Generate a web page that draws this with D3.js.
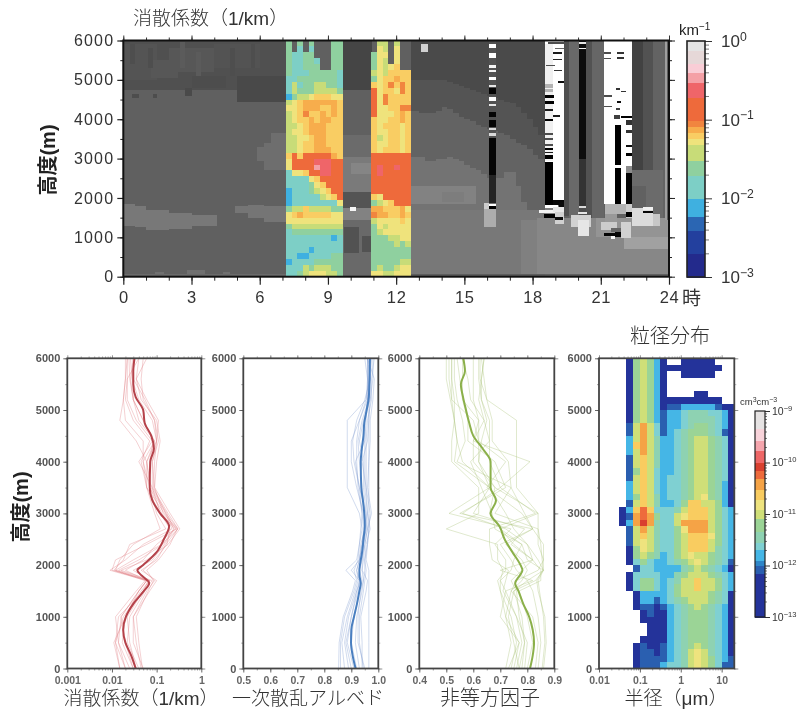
<!DOCTYPE html>
<html><head><meta charset="utf-8">
<script src="https://cdn.jsdelivr.net/npm/d3@7"></script>
<style>
html,body{margin:0;padding:0;background:#fff}
svg{display:block;filter:blur(0.65px)}
text{font-family:"Liberation Sans",Arial,sans-serif}
.cjk{font-family:"Liberation Sans","Noto Sans CJK JP","Noto Sans",sans-serif}
</style></head><body>
<svg id="c" width="798" height="710"></svg>
<script>
// ---------- colour levels
const extBounds=[.002,.0039,.0058,.01,.0195,.0302,.049,.058,.069,.083,.0975,.19,.295,.4,.52,.75];
const extColors=["#232a8c","#23409e","#2b66b3","#3fb0e0","#7dcfc6","#8fd09f","#c8dc78","#efe37c","#f9cd63","#f7ad4c","#f1853f","#ee6a3b","#ef6569","#f4a0a6","#f9cdd6","#e6d8d8","#e4e4e4"];
const extCode={l:.0075,t:.015,g:.025,y:.04,Y:.053,o:.063,O:.076,R:.09,r:.14,p:.24,k:.35};
const psdBounds=[7e-13,1e-12,1.25e-12,2e-12,2.8e-12,4.5e-12,8e-12,1.25e-11,1.9e-11,3e-11,4.8e-11,7e-11,1e-10,1.7e-10,2.7e-10,4.5e-10];
const psdColors=["#24339a","#2a5fb0","#2f86c8","#45b6e6","#7fd0d2","#8ed2b2","#9bd496","#cfdf78","#eee37e","#f9cc60","#f5a346","#ee6b3c","#d9402f","#ee6666","#f5a5ad","#f8d3da","#e6e3e3"];
const psdCode={n:2.4e-13,b:8e-13,l:1.6e-12,t:2.4e-12,e:3.6e-12,g:6e-12,y:1e-11,Y:1.5e-11,o:2.4e-11,O:3.8e-11,r:6e-11,R:8.5e-11};

// ---------- upper panel: gray background (t0,t1,altLow,altHigh,level 0..10)
const edgeTimes=[12.65,13,13.25,13.5,13.75,14,14.25,14.5,14.75,15,15.25,15.5,15.75,16,16.25,16.5,16.75,17,17.25,17.5,17.75,18,18.25,18.5];
const edgeDark =[5000,5000,5000,5000,5000,5000,4950,4900,4850,4800,4750,4700,4650,4600,4550,4500,4450,4400,4300,4150,4000,3800,3600,3350];
const edgeMid  =[4200,4150,4150,4150,4200,4300,4250,4150,4050,4000,3950,3850,3800,3750,3700,3650,3600,3500,3400,3350,3250,3100,3000,2900];
const edgeLight=[3050,3050,2950,2950,3000,3000,3050,3000,2950,2850,2750,2700,2600,2500,2500,2500,2650,2650,2300,1900,1450,1450,1450,1450];
const grayPatches=[
[0,24,0,6000,3.75],
[0,7.2,4750,6000,3.15],[0,1.5,5000,5900,3.3],[2,4,5200,5800,3.4],[4,6,5300,5900,3.25],[1.2,2.4,5050,5500,3.4],[3,4.5,4800,5100,3],[5,7.2,4450,5100,2.85],
[0.3,0.5,5400,5900,3.05],[1.1,1.3,5300,5800,3.05],[2.5,2.7,5300,5950,3.55],[3.2,3.4,5100,5700,3.55],[4.7,4.9,5100,5800,3.05],[5.6,5.8,5300,5900,3.05],
[0.4,0.7,4550,4650,3],[1.3,1.5,4550,4650,3],[2.7,3,4600,4800,2.9],
[0,0.5,1300,1850,4.7],[0.5,1,1250,1800,4.7],[1,2,1180,1700,4.7],[2,3,1220,1620,4.7],[3,4.1,1300,1570,4.7],
[4.9,5.5,1620,1800,4.6],[5.5,6.2,1500,1830,4.6],[6.2,7.2,1380,1790,4.6],
[0,7.2,0,70,4.2],[1.4,1.8,70,120,4.4],[2.8,3.6,70,160,4.4],[4.4,4.7,70,130,4.4],
[6.2,7.2,2700,3400,4.3],[5.9,6.3,2950,3300,4.3],[6.5,7.2,3300,3650,4.3],
[9.65,10.95,4750,6000,2.7],[9.65,10.95,3050,3600,4.2],[9.65,10.95,2150,3050,4.8],[10,10.95,2600,2900,5.2],
[9.65,10.95,1750,2150,3.3],[9.65,10.95,1450,1750,5.1],[9.65,10.95,0,1450,4.1],
[9.7,10.35,600,1250,3.2],[10.5,10.95,620,1030,3.2],[9.95,10.25,1680,1760,9.6],
[12.65,18.55,0,1700,4.7],[12.65,15.5,1850,2300,5.1],[14,15,1900,2150,4.9],[18.2,24,0,1500,5.3],[17.5,18.2,0,1450,5],
[20.8,24,1000,1500,5.8],[22,24,700,1000,6.3],[12.65,18.55,0,70,3.7],[18.55,24,0,60,3.8],
[19.4,19.6,1550,6000,3.1],[19.6,20.05,1500,6000,4.1],[20.05,20.35,1500,6000,3],[20.35,20.6,1500,6000,3.2],[20.6,21.15,1500,6000,4],
[22.36,22.85,1550,6000,2.6],[22.85,23.3,1500,6000,3.2],[23.3,23.82,1500,6000,3.9],[23.82,23.92,1450,6000,6.2],[23.92,24,1450,6000,3.6],
[22.36,23.75,1500,2700,4.2],[22.36,23,1700,2300,3.8],[18.55,19.4,1500,1800,5],
[13.1,13.4,5700,5920,8.2]
];
const grayEarly=17; // patches painted before the 12.65–18.5 h edges
// ---------- upper panel: black/white cells
const sparkCells=[
[16.1,16.38,2590,6000,3.2],[16.1,16.38,1860,2580,1.4],[16.1,16.38,2580,3514,0.2],[16.1,16.38,3800,3987,0.2],[16.1,16.38,4055,4174,0.2],[16.1,16.38,4640,4783,0.2],[16.1,16.38,5000,5060,0.8],
[16.1,16.38,5815,5900,10],[16.1,16.38,5560,5670,10],[16.1,16.38,5310,5375,9.6],[16.1,16.38,5190,5250,9.6],[16.1,16.38,4995,5080,10],[16.1,16.38,4825,4870,9],[16.1,16.38,4470,4570,10],[16.1,16.38,4326,4377,9],[16.1,16.38,3716,3767,8.5],[16.1,16.38,3573,3640,8.5],
[16.1,16.38,1800,1846,10],[16.1,16.38,1710,1800,0],[15.85,16.38,1270,1710,6.8],[15.85,16.1,1720,1860,8],
[18.55,19.4,1950,6000,10],[18.55,18.9,2950,5900,9.4],[18.55,18.9,1820,2920,0],
[18.55,18.95,4530,4613,0],[18.55,18.95,4377,4460,0],[18.55,18.9,4220,4250,1],[18.55,18.9,3960,4000,0],[18.55,18.9,3600,3640,3],[18.55,18.9,3480,3520,3],[18.55,18.9,3320,3360,3],[18.55,18.9,3220,3280,0],[18.55,18.9,3130,3170,1],[18.55,18.9,2990,3090,0],
[18.55,18.9,4800,4900,7],[18.55,18.9,4700,4760,7],
[18.9,19.3,5650,5700,1],[18.9,19.3,5500,5540,1.5],[18.6,19,5340,5380,3],[18.95,19.3,5230,5260,2],[19.1,19.4,4920,4970,0.5],[18.9,19.2,4060,4100,1],[18.7,19.4,5900,5950,3],[19,19.4,5780,5820,4],
[18.9,19.4,1820,1950,0.3],[19.15,19.4,1750,1900,0.4],[18.55,19.1,1750,1820,10],
[18.3,19.1,1620,1700,9.5],[18.5,19,1490,1590,0],[18.9,19.4,1650,1780,9],[19,19.4,1350,1650,8.2],[19,19.35,1440,1520,0.5],
[20.05,20.35,3000,6000,0.5],[20.05,20.35,1800,3000,2],[20.05,20.35,5780,5820,9.5],[20.05,20.35,5900,5960,9],[20.05,20.35,1740,1800,8.5],[20,20.4,1600,1650,9],[19.7,20.55,1250,1570,8.2],[20,20.5,1030,1450,9],
[21.15,22.36,1850,6000,10],
[21.62,21.87,1820,3850,0],[21.62,21.87,2750,2840,10],[22.1,22.36,1850,2640,0.2],[22.1,22.36,2640,2820,5.5],[22.1,22.36,3060,3130,0],[22.1,22.36,3300,3350,0.5],[22.1,22.36,3640,3720,2],[22.1,22.36,3860,3980,2],[21.87,22.36,4020,4080,0],
[21.15,21.45,5660,5700,3],[21.15,21.45,5520,5560,3],[21.7,22,5660,5710,2],[21.7,22,5540,5580,2],[21.65,21.85,4750,4800,2],[21.9,22.1,4680,4720,2],[21.7,21.9,4420,4470,0.5],[21.65,21.85,4230,4290,2.5],[21.15,21.5,4570,4610,3],[21.15,21.5,4300,4340,3],[21.6,21.85,4000,4100,2.5],
[21.2,22.1,1600,1850,7],[21.2,21.7,1400,1600,6],[21,21.7,1180,1400,8],[21.15,21.7,1030,1120,0.2],[21.62,21.87,1020,1130,0.2],[21.87,22.1,1030,1200,0.2],[21.45,21.62,950,1040,9.6],[21.45,21.87,1130,1240,4],[21.87,22.35,980,1400,8.2],
[22.1,22.36,1500,1850,8],[22.1,22.36,1520,1640,0],[22.36,23.3,1300,1750,8.6],[22.85,23.3,1620,1670,0.2],[22.85,23.3,1700,1760,9.4],[23.3,23.6,1300,1600,7.8]
];
const swathStart=[7.15,10.9];
const swathOne=["gxgxgxxxgg","gxtxtxxxgg","gttggxxxgg","gttggtxxgg","gttgggxxgg","gtttgggggt","ttgggggggt","tytggyyggt","tygggyyyyg","lgyyYoooYY","yYoOOOOOOo","YYoOOOooOo","yYoRooOoOo","yYooOoOOoo","yyYoOOOooo","yYYoOOOooo","yyYYoOOooo","yyYooOOooo","yyYooOOOoo","ororrrrrOo","Yrrrrppprr","Yrrrrkpprr","tYYorrpprr","ttttYorrrr","ttttgYorrr","ltttgyYorr","ltttttyYor","lttttttttY","gyyoyyyygg","YoOoooooYY","YYYYYYYYYY","gyyyyyyyyy","tggggggggg","ttttttttlt","tttttttttt","ttttlttttt","ttllttttgg","lttttggggg","tttygyyygg","ttgyYYYyyg"];
const swathTwo=["xyyxyxx","xYyxYxx","gYYxYxx","gYyxYxx","gYyYoxx","yYyoooo","gYooOoo","oYoRoRo","rYooYRo","rYRoooo","rYRoooo","rYYooRR","rYYYoOo","oYYooOo","oYoooYo","oYYooYo","oyYooYo","oYYooYo","oYoooYo","rrrrrrr","rrrrrrr","rprrprr","rprrrrr","rrrrrrr","rrrrrrr","rrrrrrr","oYrrrrr","gyYorrr","OOoooOY","ROOooOo","yYYYYoY","gYyYYYY","gyYYYYY","gggyyYY","ggggygy","ggggggg","ggggggg","gggggyy","gyggyYY","YYyyYYY"];

// ---------- lower panels
const altMean=[0,250,500,750,1000,1250,1500,1650,1800,1900,2000,2250,2500,2750,3000,3250,3500,4000,4250,4500,4750,5000,5250,5500,5750,6000];
const extMean=[.034,.027,.020,.0178,.0205,.030,.052,.068,.046,.037,.05,.10,.145,.19,.12,.08,.07,.072,.087,.076,.054,.05,.034,.03,.03,.032];
const albMean=[.916,.905,.899,.9,.91,.921,.93,.935,.93,.93,.932,.94,.945,.95,.948,.943,.937,.935,.939,.945,.948,.957,.965,.967,.968,.969];
const asyMean=[.81,.82,.825,.82,.807,.785,.767,.755,.772,.782,.775,.745,.716,.697,.664,.684,.664,.664,.635,.6,.585,.573,.562,.554,.569,.563];
const altThin=[0,500,1000,1500,1700,1900,2100,2400,2700,3000,3500,4000,4400,4800,5200,5600,6000];
const extThin=[
[.015,.012,.018,.045,.07,.010,.012,.06,.28,.12,.06,.06,.09,.04,.03,.03,.03],
[.025,.014,.016,.04,.06,.009,.02,.05,.22,.16,.07,.05,.09,.05,.03,.025,.024],
[.03,.017,.02,.05,.065,.012,.03,.13,.3,.18,.08,.08,.1,.08,.04,.028,.026],
[.02,.012,.014,.05,.08,.016,.06,.18,.33,.2,.09,.08,.11,.09,.055,.03,.03],
[.04,.022,.025,.055,.07,.03,.08,.15,.25,.13,.07,.07,.085,.05,.03,.026,.03],
[.045,.035,.03,.06,.09,.05,.09,.17,.2,.12,.08,.04,.08,.035,.022,.022,.022],
[.048,.04,.035,.065,.085,.06,.11,.2,.29,.14,.09,.1,.12,.1,.045,.035,.04],
[.03,.02,.016,.04,.06,.02,.05,.1,.27,.15,.06,.05,.05,.02,.018,.02,.02],
[.02,.014,.012,.035,.055,.011,.018,.025,.16,.1,.07,.06,.035,.015,.018,.02,.022],
[.035,.025,.022,.05,.07,.014,.04,.14,.24,.17,.075,.06,.1,.09,.05,.045,.05],
[.015,.011,.02,.04,.06,.012,.015,.03,.12,.09,.06,.045,.07,.03,.02,.022,.04],
[.05,.03,.03,.07,.1,.045,.1,.16,.3,.16,.085,.09,.1,.11,.06,.035,.06]];
const albThin=[
[.853,.855,.87,.905,.915,.88,.92,.93,.94,.93,.885,.885,.885,.885,.955,.96,.96],
[.86,.86,.875,.91,.92,.91,.925,.93,.935,.94,.93,.91,.905,.92,.95,.97,.975],
[.875,.865,.885,.915,.925,.92,.93,.94,.945,.94,.925,.92,.92,.93,.96,.97,.97],
[.89,.875,.89,.92,.935,.93,.935,.945,.955,.95,.94,.93,.925,.94,.965,.965,.965],
[.9,.88,.9,.925,.93,.9,.93,.935,.95,.955,.945,.945,.93,.945,.97,.98,.98],
[.92,.9,.91,.93,.94,.93,.94,.95,.96,.955,.93,.915,.95,.955,.96,.96,.95],
[.93,.915,.92,.94,.945,.95,.95,.955,.97,.96,.955,.955,.955,.96,.975,.975,.985],
[.945,.93,.93,.945,.95,.955,.95,.96,.965,.97,.955,.94,.96,.965,.97,.97,.97],
[.94,.94,.935,.955,.96,.94,.945,.95,.96,.975,.96,.965,.97,.97,.98,.985,.96],
[.965,.965,.965,.965,.965,.965,.955,.96,.965,.965,.965,.965,.965,.965,.965,.96,.96],
[.91,.885,.9,.92,.93,.92,.93,.94,.95,.945,.92,.9,.9,.93,.955,.965,.97],
[.95,.925,.925,.935,.945,.94,.94,.945,.955,.96,.95,.95,.95,.95,.96,.97,.96]];
const asyThin=[
[.86,.87,.865,.84,.835,.857,.86,.86,.82,.79,.74,.73,.67,.67,.65,.64,.63],
[.855,.865,.86,.845,.84,.86,.855,.85,.84,.84,.76,.76,.76,.76,.65,.625,.625],
[.72,.74,.72,.70,.70,.71,.69,.69,.5,.62,.62,.52,.52,.53,.515,.50,.50],
[.74,.76,.74,.70,.69,.72,.72,.68,.74,.51,.66,.53,.54,.53,.52,.51,.51],
[.76,.78,.76,.71,.72,.73,.67,.66,.66,.83,.70,.81,.60,.64,.62,.63,.64],
[.78,.79,.78,.75,.80,.76,.74,.70,.82,.55,.72,.68,.58,.58,.56,.55,.54],
[.77,.75,.73,.75,.83,.86,.80,.78,.70,.84,.68,.62,.62,.62,.6,.6,.6],
[.80,.82,.80,.77,.85,.85,.82,.74,.79,.60,.66,.56,.54,.53,.53,.52,.52],
[.73,.77,.70,.72,.82,.70,.82,.80,.72,.56,.70,.66,.66,.66,.63,.62,.62],
[.83,.84,.82,.74,.76,.84,.86,.84,.84,.68,.74,.54,.57,.56,.54,.53,.53],
[.75,.77,.72,.74,.78,.80,.78,.72,.82,.78,.65,.72,.62,.60,.52,.52,.52],
[.79,.80,.76,.72,.70,.74,.75,.78,.68,.67,.63,.59,.66,.64,.59,.58,.56],
[.84,.85,.84,.82,.80,.86,.84,.80,.75,.72,.66,.62,.63,.65,.63,.63,.64],
[.77,.79,.77,.76,.74,.78,.82,.75,.70,.66,.68,.60,.60,.62,.56,.56,.56]];
// particle size: 48 layers of 125 m from the top, 17 radius bins of 1/6 decade from 10^-1.5 µm
const psdRows=[
".ngygln..nnnnn...",".ngyglnnnnnnnnn..",".ngygln..nnnnn...",".ngygln..........",".ngygln..........",".ngygln....nn....",".ngyglnnnnnnnnn..",".ngyglnbblllllbnn",
".ngyglbllteeettln",".ngyglbllteeeetln",".byOytbllteggetln",".byOytbltegggetbn",".lyOyelltegyygetn",".loOyelltegyygetn",".lyOyelltegyygetn",".byoyelltegyygetn",
".byoyelltegyygetn",".bgoytlltegyygetn",".byoytlttegyygetn",".lyoytlttegyygeln",".lyoytlttegyygeln",".lgoyelttegyYgeln",".byoyelltgooyygln","nlorottteyoooygtl",
"nbOrOgttyYoooygtl","nlOROettyOOOOygtl",".byOyettgYOOOygtl",".byoyettgyoooYgtl",".byYyettgyoooygtl",".ngYyettgyoooyetl",".ngygeltgyYyygetl",".ntgtlltegyYygetb",
"..bttllllegygetln",".nttttllegyyygetl",".ntggtlteyyoyygtl",".ntggtltgyyoyygtl","..nlllltgyyyygetn","..nllbltegyyygetn","..nbbnbltegygetln","...nbnnltegggetln",
"...nnnnltegggetln","....nnnltegggetln","....nnnltegggetln","...nnnnltegggetln","..nbnnbltegygetln","..nbbnblteyYyetln","..nbbbblteyYygtlb","..nbbbltteyYygtbb"];
const timeTicks=[0,3,6,9,12,15,18,21,24];
const altTicks=[0,1000,2000,3000,4000,5000,6000];
const extTicks=[.001,.01,.1,1], extLabels=["0.001","0.01","0.1","1"];
const albTicks=[.5,.6,.7,.8,.9,1], albLabels=["0.5","0.6","0.7","0.8","0.9","1.0"];
const asyTicks=[.4,.5,.6,.7,.8,.9];
const radTicks=[.01,.1,1,10], radLabels=["0.01","0.1","1","10"];

const svg=d3.select("#c");
const crisp=g=>g.attr("shape-rendering","crispEdges");
function logMinors(lo,hi){const a=[];for(let e=lo;e<hi;e++)for(let m=2;m<=9;m++)a.push(m*10**e);return a;}
function styleAxis(g,col,w){g.select(".domain").remove();g.selectAll("line").attr("stroke",col).attr("stroke-width",w);g.selectAll("text").attr("fill",col);}
function range(a,b,s){return d3.range(a,b+1e-9,s);}

// ======= upper panel
const x=d3.scaleLinear([0,24],[123.3,669]);
const y=d3.scaleLinear([0,6000],[276.7,40.5]);
const gray=d3.scaleLinear([0,10],["#000","#fff"]);
const extColor=d3.scaleThreshold(extBounds,extColors);
const topG=svg.append("g").call(crisp);
const cell=(g,t0,t1,a0,a1,fill)=>g.append("rect").attr("x",x(t0)).attr("width",x(t1)-x(t0)).attr("y",y(a1)).attr("height",y(a0)-y(a1)).attr("fill",fill);
grayPatches.slice(0,grayEarly).forEach(p=>cell(topG,p[0],p[1],p[2],p[3],gray(p[4])));
edgeTimes.forEach((t,i)=>{const t1=i<edgeTimes.length-1?edgeTimes[i+1]:18.55;
  cell(topG,t,t1,edgeDark[i],6000,gray(2.9));
  cell(topG,t,t1,edgeMid[i],edgeDark[i],gray(3.3));
  cell(topG,t,t1,edgeLight[i],edgeMid[i],gray(3.9));
  cell(topG,t,t1,0,edgeLight[i],gray(4.5));});
grayPatches.slice(grayEarly).forEach(p=>cell(topG,p[0],p[1],p[2],p[3],gray(p[4])));
sparkCells.forEach(p=>cell(topG,p[0],p[1],p[2],p[3],gray(p[4])));
[swathOne,swathTwo].forEach((rows,s)=>rows.forEach((row,r)=>[...row].forEach((c,k)=>{
  if(c==="x")return;
  cell(topG,swathStart[s]+k*.25,swathStart[s]+(k+1)*.25,6000-(r+1)*150,6000-r*150,extColor(extCode[c]));
})));
// axes
const axT=svg.append("g");
axT.append("g").attr("transform",`translate(0,${y(0)})`).call(d3.axisBottom(x).tickValues(range(0,24,1)).tickSize(4).tickFormat("")).call(styleAxis,"#222",1);
axT.append("g").attr("transform",`translate(0,${y(0)})`).call(d3.axisBottom(x).tickValues(timeTicks).tickSize(8).tickPadding(7).tickFormat(d=>d)).call(styleAxis,"#222",1.2)
  .selectAll("text").attr("font-size",16.5).attr("letter-spacing",.6).attr("fill","#333");
axT.append("g").attr("transform",`translate(0,${y(6000)})`).call(d3.axisTop(x).tickValues(range(0,24,1)).tickSize(3).tickFormat("")).call(styleAxis,"#333",1);
axT.append("g").attr("transform",`translate(0,${y(6000)})`).call(d3.axisTop(x).tickValues(timeTicks).tickSize(5).tickFormat("")).call(styleAxis,"#333",1);
axT.append("g").attr("transform",`translate(${x(0)},0)`).call(d3.axisLeft(y).tickValues(range(0,6000,500)).tickSize(3).tickFormat("")).call(styleAxis,"#222",1);
axT.append("g").attr("transform",`translate(${x(0)},0)`).call(d3.axisLeft(y).tickValues(altTicks).tickSize(6).tickPadding(3).tickFormat(d=>d)).call(styleAxis,"#222",1.2)
  .selectAll("text").attr("font-size",16).attr("letter-spacing",1.2).attr("fill","#333");
axT.append("g").attr("transform",`translate(${x(24)},0)`).call(d3.axisRight(y).tickValues(range(0,6000,500)).tickSize(3).tickFormat("")).call(styleAxis,"#222",1);
axT.append("g").attr("transform",`translate(${x(24)},0)`).call(d3.axisRight(y).tickValues(altTicks).tickSize(6).tickFormat("")).call(styleAxis,"#222",1);
axT.append("rect").attr("x",x(0)).attr("y",y(6000)).attr("width",x(24)-x(0)).attr("height",y(0)-y(6000)).attr("fill","none").attr("stroke","#111").attr("stroke-width",2);
svg.append("text").attr("class","cjk").attr("x",133).attr("y",25).attr("font-size",19).attr("fill","#333").attr("font-weight",300).text("消散係数（1/km）");
svg.append("text").attr("class","cjk").attr("x",682).attr("y",305).attr("font-size",19).attr("fill","#333").text("時");
svg.append("text").attr("class","cjk").attr("transform","translate(55,160) rotate(-90)").attr("text-anchor","middle").attr("font-size",20).attr("font-weight",700).attr("fill","#222").text("高度(m)");

// colourbar helper
function colourbar(bx,bw,by0,by1,dom,bounds,colors,labelExp,opt){
  const cy=d3.scaleLog(dom,[by1,by0]);
  const g=svg.append("g").call(crisp);
  const edges=[dom[0],...bounds,dom[1]];
  colors.forEach((c,i)=>g.append("rect").attr("x",bx).attr("width",bw).attr("y",cy(edges[i+1])).attr("height",cy(edges[i])-cy(edges[i+1])+.5).attr("fill",c));
  const lo=Math.round(Math.log10(dom[0])),hi=Math.round(Math.log10(dom[1]));
  svg.append("g").attr("transform",`translate(${bx+bw},0)`).call(d3.axisRight(cy).tickValues(logMinors(lo,hi)).tickSize(opt.minor).tickFormat("")).call(styleAxis,"#555",.8);
  const major=d3.range(lo,hi+1).map(e=>10**e);
  svg.append("g").attr("transform",`translate(${bx+bw},0)`).call(d3.axisRight(cy).tickValues(major).tickSize(opt.major).tickFormat("")).call(styleAxis,"#333",1);
  svg.append("rect").attr("x",bx).attr("y",by0).attr("width",bw).attr("height",by1-by0).attr("fill","none").attr("stroke","#222").attr("stroke-width",opt.frame);
  labelExp.forEach(e=>{const t=svg.append("text").attr("x",bx+bw+opt.gap).attr("y",cy(10**e)+opt.size*.36).attr("font-size",opt.size).attr("fill","#333");
    t.append("tspan").text("10");t.append("tspan").attr("dy",-opt.size*.38).attr("font-size",opt.size*.72).text(e===0?"0":"−"+(-e));});
}
colourbar(687,18,41,277,[.001,1],extBounds,extColors,[0,-1,-2,-3],{minor:4,major:7,frame:1.6,gap:16,size:17});
const kt=svg.append("text").attr("x",679).attr("y",35).attr("font-size",15).attr("fill","#222");kt.append("tspan").text("km");kt.append("tspan").attr("dy",-5).attr("font-size",10).text("−1");

// ======= lower panels
const yB=d3.scaleLinear([0,6000],[668.5,358.3]);
function frame(xs,ticks,labels,minors,fs){
  const g=svg.append("g");
  const [a,b]=xs.range();
  g.append("g").attr("transform",`translate(0,${yB(0)})`).call(d3.axisBottom(xs).tickValues(minors).tickSize(2).tickFormat("")).call(styleAxis,"#777",.7);
  g.append("g").attr("transform",`translate(0,${yB(6000)})`).call(d3.axisTop(xs).tickValues(minors).tickSize(2).tickFormat("")).call(styleAxis,"#999",.7);
  g.append("g").attr("transform",`translate(0,${yB(6000)})`).call(d3.axisTop(xs).tickValues(ticks).tickSize(3).tickFormat("")).call(styleAxis,"#777",.8);
  g.append("g").attr("transform",`translate(0,${yB(0)})`).call(d3.axisBottom(xs).tickValues(ticks).tickSize(4).tickPadding(4).tickFormat((d,i)=>labels?labels[i]:d)).call(styleAxis,"#555",.9)
    .selectAll("text").attr("font-size",fs).attr("font-weight",700).attr("fill","#666");
  g.append("g").attr("transform",`translate(${a},0)`).call(d3.axisLeft(yB).tickValues(range(0,6000,500)).tickSize(2).tickFormat("")).call(styleAxis,"#777",.7);
  g.append("g").attr("transform",`translate(${a},0)`).call(d3.axisLeft(yB).tickValues(altTicks).tickSize(4).tickPadding(3).tickFormat(d=>d)).call(styleAxis,"#555",.9)
    .selectAll("text").attr("font-size",11).attr("font-weight",700).attr("fill","#555");
  g.append("g").attr("transform",`translate(${b},0)`).call(d3.axisRight(yB).tickValues(range(0,6000,500)).tickSize(2).tickFormat("")).call(styleAxis,"#999",.7);
  g.append("g").attr("transform",`translate(${b},0)`).call(d3.axisRight(yB).tickValues(altTicks).tickSize(4).tickFormat("")).call(styleAxis,"#777",.8);
  g.append("rect").attr("x",a).attr("y",yB(6000)).attr("width",b-a).attr("height",yB(0)-yB(6000)).attr("fill","none").attr("stroke","#444").attr("stroke-width",1.8);
}
function profilePanel(xs,thin,mean,thinCol,meanCol,ticks,labels,minors){
  const lt=d3.line().x(d=>xs(d[0])).y(d=>yB(d[1]));
  const g=svg.append("g").attr("fill","none");
  thin.forEach(v=>g.append("path").attr("d",lt(v.map((q,i)=>[q,altThin[i]]))).attr("stroke",thinCol).attr("stroke-width",1));
  const lm=d3.line().x(d=>xs(d[0])).y(d=>yB(d[1])).curve(d3.curveMonotoneY);
  g.append("path").attr("d",lm(mean.map((q,i)=>[q,altMean[i]]))).attr("stroke",meanCol).attr("stroke-width",2);
  frame(xs,ticks,labels,minors,10.5);
}
const xExt=d3.scaleLog([.001,1],[67.3,201.3]);
const xAlb=d3.scaleLinear([.5,1],[243.3,378.3]);
const xAsy=d3.scaleLinear([.4,.9],[419.3,554.3]);
const xRad=d3.scaleLog([.01,20.4],[599,734.3]);
profilePanel(xExt,extThin,extMean,"rgba(222,120,125,.34)","#b5424a",extTicks,extLabels,logMinors(-3,0));
profilePanel(xAlb,albThin,albMean,"rgba(120,150,205,.34)","#4a7fc0",albTicks,albLabels,range(.5,1,.05));
profilePanel(xAsy,asyThin,asyMean,"rgba(170,195,120,.36)","#8bb04a",asyTicks,null,range(.4,.9,.05));

// size distribution
const psdColor=d3.scaleThreshold(psdBounds,psdColors);
const psdG=svg.append("g").call(crisp);
psdRows.forEach((row,r)=>[...row].forEach((c,k)=>{
  if(c===".")return;
  const x0=xRad(10**(-1.5+k/6)),x1=Math.min(xRad(10**(-1.5+(k+1)/6)),xRad(20.4));
  psdG.append("rect").attr("x",x0).attr("width",x1-x0).attr("y",yB(6000-r*125)).attr("height",yB(6000-(r+1)*125)-yB(6000-r*125)).attr("fill",psdColor(psdCode[c]));
}));
frame(xRad,radTicks,radLabels,logMinors(-2,1),10.5);
colourbar(755,10,411,617,[1e-13,1e-9],psdBounds,psdColors,[-9,-10,-11,-12,-13],{minor:2,major:5,frame:1.2,gap:7,size:10.5});
const ct=svg.append("text").attr("x",740).attr("y",405).attr("font-size",9.5).attr("fill","#333");
ct.append("tspan").text("cm");ct.append("tspan").attr("dy",-3).attr("font-size",7).text("3");ct.append("tspan").attr("dy",3).text("cm");ct.append("tspan").attr("dy",-3).attr("font-size",7).text("−3");

const lab=(t,cx,cy,fs)=>svg.append("text").attr("class","cjk").attr("x",cx).attr("y",cy).attr("text-anchor","middle").attr("font-size",fs).attr("fill","#333").attr("font-weight",300).text(t);
lab("消散係数（1/km）",141,705,19);
lab("一次散乱アルベド",308,705,19);
lab("非等方因子",490,705,20);
lab("半径（μm）",676,705,19);
lab("粒径分布",670,343,20);
svg.append("text").attr("class","cjk").attr("transform","translate(28,507) rotate(-90)").attr("text-anchor","middle").attr("font-size",20).attr("font-weight",700).attr("fill","#222").text("高度(m)");
</script>
</body></html>
